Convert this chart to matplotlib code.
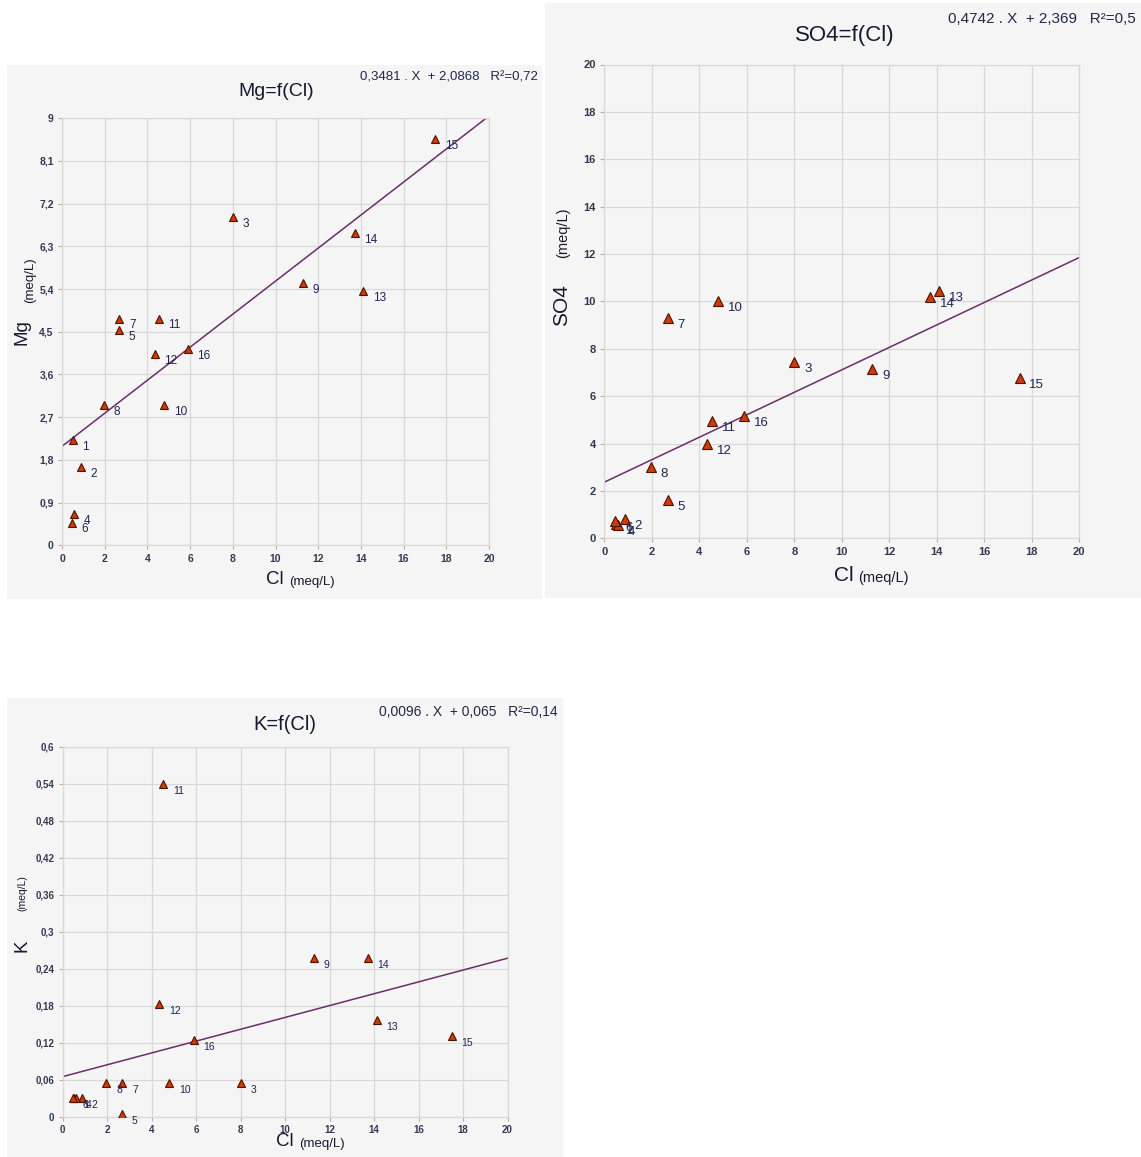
import numpy as np
import matplotlib.pyplot as plt
from matplotlib.patches import Rectangle

plt.rcParams['font.family'] = ['Liberation Sans', 'DejaVu Sans']

# sample numbers and concentrations (meq/L)
ids = [1, 2, 3, 4, 5, 6, 7, 8, 9, 10, 11, 12, 13, 14, 15, 16]
cl = [0.50, 0.87, 8.0, 0.58, 2.68, 0.47, 2.68, 1.96, 11.28, 4.79, 4.53, 4.34, 14.11, 13.71, 17.49, 5.89]
mg = [2.22, 1.64, 6.91, 0.65, 4.54, 0.48, 4.78, 2.96, 5.52, 2.96, 4.78, 4.03, 5.36, 6.59, 8.57, 4.14]
so4 = [0.62, 0.80, 7.44, 0.58, 1.62, 0.72, 9.28, 3.02, 7.13, 10.01, 4.96, 3.97, 10.43, 10.19, 6.78, 5.16]
k = [0.030, 0.030, 0.054, 0.030, 0.004, 0.030, 0.054, 0.054, 0.258, 0.054, 0.539, 0.183, 0.157, 0.258, 0.131, 0.124]

# linear fits y = a.X + b
mg_fit = (0.3481, 2.0868, 0.72)
so4_fit = (0.4742, 2.369, 0.5)
k_fit = (0.0096, 0.065, 0.14)

x_ticks = [0, 2, 4, 6, 8, 10, 12, 14, 16, 18, 20]
mg_ticks = [0, 0.9, 1.8, 2.7, 3.6, 4.5, 5.4, 6.3, 7.2, 8.1, 9]
mg_ticklabels = ['0', '0,9', '1,8', '2,7', '3,6', '4,5', '5,4', '6,3', '7,2', '8,1', '9']
so4_ticks = [0, 2, 4, 6, 8, 10, 12, 14, 16, 18, 20]
so4_ticklabels = ['0', '2', '4', '6', '8', '10', '12', '14', '16', '18', '20']
k_ticks = [0, 0.06, 0.12, 0.18, 0.24, 0.3, 0.36, 0.42, 0.48, 0.54, 0.6]
k_ticklabels = ['0', '0,06', '0,12', '0,18', '0,24', '0,3', '0,36', '0,42', '0,48', '0,54', '0,6']

W, H = 1141, 1157
fig = plt.figure(figsize=(W / 100, H / 100), dpi=100)
fig.patch.set_facecolor('white')

BG = '#f5f5f5'
GRID = '#d9d9d9'
TXT = '#1e2650'
LINE = '#6b2d6b'


def fx(x):
    return x / W


def fy(y):
    return 1 - y / H


def rect(l, t, r, b):
    return [l / W, 1 - b / H, (r - l) / W, (b - t) / H]


def fmt(v):
    return str(v).replace('.', ',')


def panel(bg, box, y, fit, yticks, yticklabels, ymax, name, title_xy, title_fs,
          eq_xy, eq_fs, ylab_xy, unit_xy, xlab_xy, lab_fs, tick_fs, ms, big_fs,
          yunit_fs, xunit_fs):
    fig.add_artist(Rectangle((fx(bg[0]), fy(bg[3])), (bg[2] - bg[0]) / W, (bg[3] - bg[1]) / H,
                             transform=fig.transFigure, facecolor=BG, edgecolor='none', zorder=0))
    ax = fig.add_axes(rect(*box))
    ax.set_facecolor(BG)
    ax.set_xlim(0, 20)
    ax.set_ylim(0, ymax)
    ax.set_xticks(x_ticks)
    ax.set_xticklabels([str(t) for t in x_ticks], fontweight='bold')
    ax.set_yticks(yticks)
    ax.set_yticklabels(yticklabels, fontweight='bold')
    ax.grid(True, color=GRID, lw=0.9)
    ax.set_axisbelow(True)
    for s in ax.spines.values():
        s.set_color(GRID)
        s.set_linewidth(0.9)
    ax.tick_params(length=3, width=0.8, color='#d4a0a0', labelsize=tick_fs,
                   labelcolor='#343852', pad=3)

    a, b, r2 = fit
    xs = np.array([0, 20])
    ax.plot(xs, a * xs + b, color=LINE, lw=1.1, zorder=2)
    ax.plot(cl, y, ls='none', marker='^', ms=ms, mfc='#cf3b00', mec='#4a1200',
            mew=0.8, zorder=3)
    for i, xv, yv in zip(ids, cl, y):
        ax.annotate(str(i), (xv, yv), xytext=(7, -5), textcoords='offset points',
                    ha='left', va='center', fontsize=lab_fs, color=TXT, zorder=4)

    fig.text(fx(title_xy[0]), fy(title_xy[1]), name + '=f(Cl)', ha='center', va='center',
             fontsize=title_fs, color='#151a30')
    eq = fmt(a) + ' . X  + ' + fmt(b) + '   R²=' + fmt(r2)
    fig.text(fx(eq_xy[0]), fy(eq_xy[1]), eq, ha='right', va='center',
             fontsize=eq_fs, color='#232848')
    fig.text(fx(ylab_xy[0]), fy(ylab_xy[1]), name, rotation=90, ha='center', va='center',
             fontsize=big_fs, color='#151a30')
    fig.text(fx(unit_xy[0]), fy(unit_xy[1]), '(meq/L)', rotation=90, ha='center', va='center',
             fontsize=yunit_fs, color='#151a30')
    fig.text(fx(xlab_xy[0]), fy(xlab_xy[1]), 'Cl', ha='center', va='center',
             fontsize=big_fs, color='#151a30')
    fig.text(fx(xlab_xy[0] + 14), fy(xlab_xy[1] + 2), '(meq/L)', ha='left', va='center',
             fontsize=xunit_fs, color='#151a30')
    return ax


panel((7, 65, 542, 599), (62, 118.3, 489, 545.3), mg, mg_fit, mg_ticks, mg_ticklabels, 9,
      'Mg', (276, 92), 14, (538, 78), 9.5, (22, 332), (30, 280), (275, 580),
      8.5, 7.5, 6, 13.5, 9.5, 9.5)

panel((545, 3, 1141, 598), (604.3, 64.5, 1079.3, 538.3), so4, so4_fit, so4_ticks,
      so4_ticklabels, 20, 'SO4', (845, 36), 16, (1136, 19), 11, (562, 305), (563, 233),
      (844, 576), 9.5, 8, 7, 15, 10.5, 10.5)

panel((7, 698, 563, 1157), (62.7, 746.7, 507.5, 1116.7), k, k_fit, k_ticks, k_ticklabels,
      0.6, 'K', (285, 724), 14.5, (558, 712), 10, (22, 946), (22, 893), (285, 1142),
      7.5, 7, 6, 13.5, 7.5, 9.5)

fig.savefig('out.png', dpi=100)
